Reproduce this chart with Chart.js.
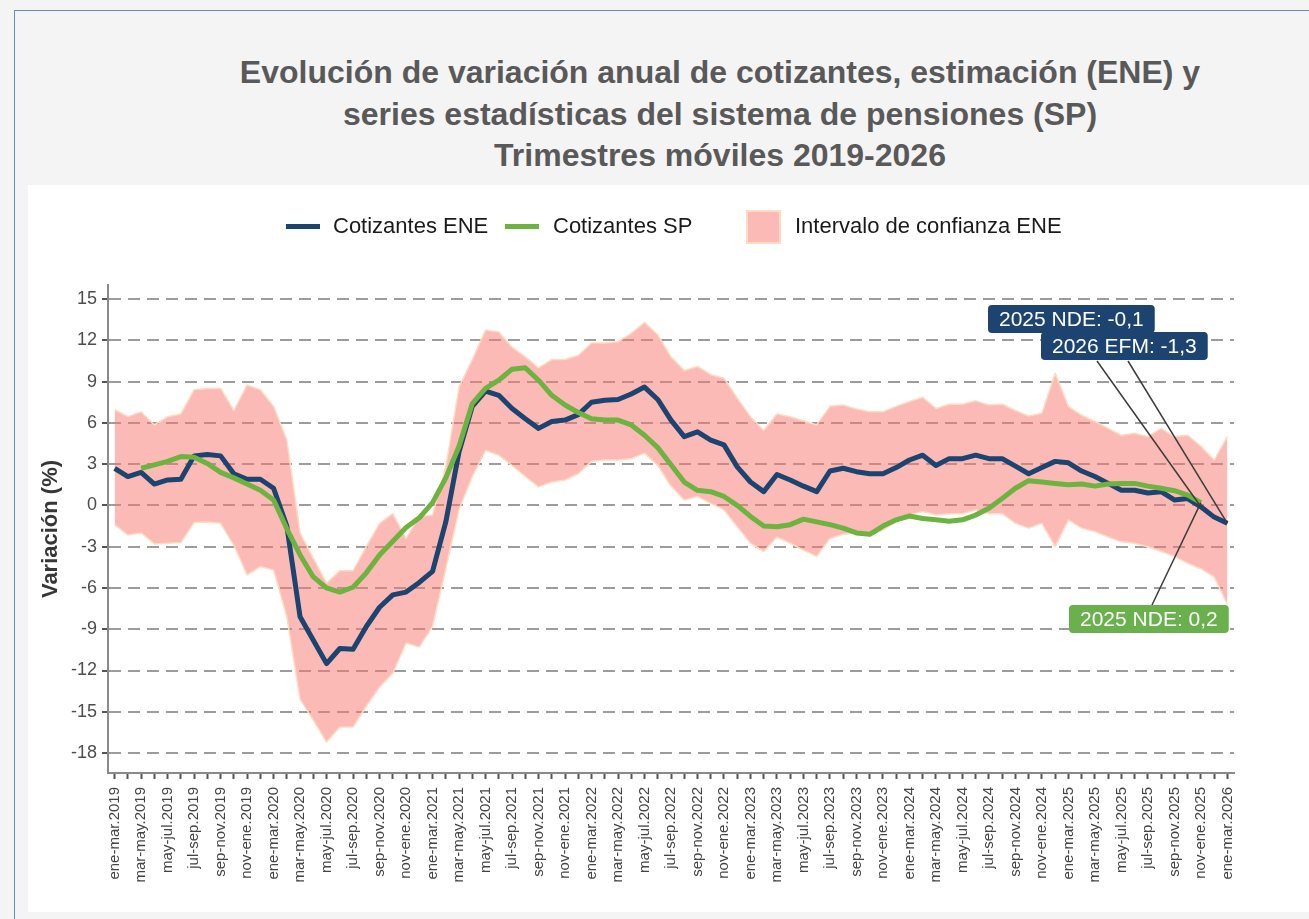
<!DOCTYPE html>
<html lang="es">
<head>
<meta charset="utf-8">
<title>Variación anual de cotizantes ENE y SP</title>
<script src="https://cdn.jsdelivr.net/npm/chart.js@4.4.1/dist/chart.umd.min.js"></script>
<style>
  html, body { margin: 0; padding: 0; }
  body {
    width: 1309px; height: 919px; position: relative; overflow: hidden;
    background: #f4f4f4;
    font-family: "Liberation Sans", Arial, Helvetica, sans-serif;
  }
  #marco {
    position: absolute; left: 14px; top: 10px; width: 1310px; height: 920px;
    border-left: 1.5px solid #6a8cc2; border-top: 1.5px solid #6a8cc2;
  }
  #titulo {
    position: absolute; left: 0; top: 52px; width: 1440px;
    text-align: center; font-weight: bold; font-size: 32px; line-height: 41.5px;
    color: #595959;
  }
  #panel {
    position: absolute; left: 28px; top: 185px; width: 1281px; height: 727px;
    background: #ffffff;
  }
  #grafico { position: absolute; left: 0; top: 0; }
  .ley-linea { position: absolute; height: 5px; top: 224px; }
  .ley-caja {
    position: absolute; left: 746px; top: 210px; width: 31px; height: 30px;
    background: #fbbab6; border: 2px solid #fddcc2;
  }
  .ley-texto {
    position: absolute; top: 213px; font-size: 22px; line-height: 26px; color: #1a1a1a;
    white-space: nowrap;
  }
</style>
</head>
<body>
<div id="marco"></div>
<div id="titulo">Evolución de variación anual de cotizantes, estimación (ENE) y<br>series estadísticas del sistema de pensiones (SP)<br>Trimestres móviles 2019-2026</div>
<div id="panel">
  <canvas id="grafico" width="1281" height="727"></canvas>
</div>
<div class="ley-linea" style="left:286px; width:34px; background:#1b4470;"></div>
<div class="ley-texto" style="left:333px;">Cotizantes ENE</div>
<div class="ley-linea" style="left:505px; width:34px; background:#6db33f;"></div>
<div class="ley-texto" style="left:553px;">Cotizantes SP</div>
<div class="ley-caja"></div>
<div class="ley-texto" style="left:795px;">Intervalo de confianza ENE</div>

<script>
// Trimestres móviles, ene-mar.2019 ... ene-mar.2026
var periodos = [
  'ene-mar.2019','feb-abr.2019','mar-may.2019','abr-jun.2019','may-jul.2019','jun-ago.2019','jul-sep.2019','ago-oct.2019','sep-nov.2019','oct-dic.2019','nov-ene.2019','dic-feb.2019',
  'ene-mar.2020','feb-abr.2020','mar-may.2020','abr-jun.2020','may-jul.2020','jun-ago.2020','jul-sep.2020','ago-oct.2020','sep-nov.2020','oct-dic.2020','nov-ene.2020','dic-feb.2020',
  'ene-mar.2021','feb-abr.2021','mar-may.2021','abr-jun.2021','may-jul.2021','jun-ago.2021','jul-sep.2021','ago-oct.2021','sep-nov.2021','oct-dic.2021','nov-ene.2021','dic-feb.2021',
  'ene-mar.2022','feb-abr.2022','mar-may.2022','abr-jun.2022','may-jul.2022','jun-ago.2022','jul-sep.2022','ago-oct.2022','sep-nov.2022','oct-dic.2022','nov-ene.2022','dic-feb.2022',
  'ene-mar.2023','feb-abr.2023','mar-may.2023','abr-jun.2023','may-jul.2023','jun-ago.2023','jul-sep.2023','ago-oct.2023','sep-nov.2023','oct-dic.2023','nov-ene.2023','dic-feb.2023',
  'ene-mar.2024','feb-abr.2024','mar-may.2024','abr-jun.2024','may-jul.2024','jun-ago.2024','jul-sep.2024','ago-oct.2024','sep-nov.2024','oct-dic.2024','nov-ene.2024','dic-feb.2024',
  'ene-mar.2025','feb-abr.2025','mar-may.2025','abr-jun.2025','may-jul.2025','jun-ago.2025','jul-sep.2025','ago-oct.2025','sep-nov.2025','oct-dic.2025','nov-ene.2025','dic-feb.2025',
  'ene-mar.2026'
];

// Variación anual (%) de cotizantes, estimación ENE
var cotizantesENE = [
  2.7, 2.1, 2.4, 1.55, 1.85, 1.9, 3.6, 3.7, 3.6, 2.3, 1.9, 1.9,
  1.25, -1.5, -8.1, -9.8, -11.5, -10.4, -10.45, -8.8, -7.4, -6.5, -6.3, -5.6,
  -4.8, -1.2, 3.9, 7.2, 8.3, 8.0, 7.05, 6.3, 5.6, 6.1, 6.2, 6.6,
  7.5, 7.65, 7.7, 8.1, 8.6, 7.7, 6.2, 5.0, 5.35, 4.75, 4.4, 2.8,
  1.7, 1.0, 2.25, 1.85, 1.4, 1.0, 2.5, 2.7, 2.45, 2.3, 2.3, 2.75,
  3.3, 3.65, 2.9, 3.4, 3.4, 3.65, 3.4, 3.4, 2.85, 2.3, 2.75, 3.2,
  3.1, 2.5, 2.1, 1.6, 1.1, 1.1, 0.9, 1.0, 0.4, 0.5, -0.1, -0.85,
  -1.3
];

// Variación anual (%) de cotizantes, series del sistema de pensiones
var cotizantesSP = [
  null, null, 2.7, 2.95, 3.2, 3.55, 3.5, 3.05, 2.4, 2.0, 1.55, 1.1,
  0.4, -1.7, -3.6, -5.2, -6.0, -6.3, -5.95, -4.9, -3.6, -2.6, -1.6, -0.9,
  0.2, 2.0, 4.3, 7.4, 8.5, 9.1, 9.9, 10.0, 9.1, 8.0, 7.3, 6.75,
  6.3, 6.2, 6.2, 5.85, 5.1, 4.2, 2.95, 1.7, 1.1, 1.0, 0.65, 0.0,
  -0.8, -1.5, -1.55, -1.4, -1.0, -1.2, -1.4, -1.65, -2.0, -2.1, -1.5, -1.05,
  -0.77, -0.95, -1.05, -1.15, -1.05, -0.7, -0.2, 0.5, 1.25, 1.8, 1.7, 1.6,
  1.5, 1.55, 1.4, 1.55, 1.6, 1.6, 1.4, 1.25, 1.07, 0.75, 0.2, null,
  null
];

// Intervalo de confianza ENE
var icSuperior = [
  6.95, 6.45, 6.8, 5.85, 6.45, 6.65, 8.4, 8.5, 8.5, 6.9, 8.75, 8.4,
  7.2, 4.75, -2.0, -3.85, -5.65, -4.75, -4.75, -3.0, -1.3, -0.6, -2.4, -0.8,
  -0.7, 2.8, 8.6, 10.6, 12.75, 12.6, 11.5, 10.8, 10.0, 10.6, 10.6, 10.9,
  11.8, 11.8, 11.9, 12.5, 13.3, 12.4, 10.8, 9.8, 10.1, 9.5, 9.25, 7.8,
  6.45, 5.45, 6.65, 6.45, 6.15, 5.85, 7.2, 7.3, 7.0, 6.8, 6.8, 7.2,
  7.55, 7.85, 7.05, 7.35, 7.35, 7.6, 7.3, 7.35, 6.9, 6.5, 6.7, 9.6,
  7.2, 6.55, 6.1, 5.6, 5.1, 5.25, 5.0, 5.6, 5.0, 5.1, 4.3, 3.3,
  5.0
];
var icInferior = [
  -1.4, -2.15, -2.0, -2.8, -2.75, -2.7, -1.25, -1.2, -1.3, -2.9, -5.05, -4.45,
  -4.7, -8.1, -14.1, -15.6, -17.2, -16.1, -16.1, -14.6, -13.2, -12.2, -10.0, -10.3,
  -8.8, -4.6, -0.3, 2.1, 4.0, 3.65, 2.9, 2.1, 1.35, 1.7, 1.85, 2.3,
  3.2, 3.3, 3.3, 3.4, 3.8, 2.9, 1.4, 0.4, 0.65, 0.15, -0.33, -1.55,
  -2.75, -3.35, -2.3, -2.75, -3.25, -3.7, -2.4, -2.1, -2.0, -2.2, -1.8, -1.2,
  -0.7, -0.45, -0.7, -0.6, -0.6, -0.33, -0.6, -0.6, -1.3, -1.65, -1.3, -3.0,
  -1.05, -1.65, -1.9, -2.3, -2.65, -2.75, -3.0, -3.35, -3.7, -4.2, -4.6, -5.2,
  -7.2
];

// Etiquetas de los últimos valores
var etiquetasTexto = ['2025 NDE: -0,1', '2026 EFM: -1,3', '2025 NDE: 0,2'];
var etiquetasIndice = [82, 84, 82];
var etiquetasSerie = ['ENE', 'ENE', 'SP'];

var colorENE = '#1b4470';
var colorSP = '#6db33f';
var fuente = '"Liberation Sans", Arial, Helvetica, sans-serif';

// Cajas con líneas guía hacia el punto
var etiquetasPlugin = {
  id: 'etiquetasFinales',
  afterDatasetsDraw: function (chart) {
    var ctx = chart.ctx;
    var xs = chart.scales.x;
    var ys = chart.scales.y;
    // caja: izquierda, arriba (px del lienzo); guía: inicio de la línea
    var cajas = [
      { left: 960, top: 120, gx: 1069, gy: 176 },
      { left: 1013, top: 147, gx: 1100, gy: 176 },
      { left: 1041, top: 420, gx: 1124, gy: 420 }
    ];
    ctx.save();
    ctx.font = '21px ' + fuente;
    // líneas guía
    ctx.strokeStyle = '#3c3c3c';
    ctx.lineWidth = 1.5;
    etiquetasTexto.forEach(function (t, k) {
      var serie = etiquetasSerie[k] === 'SP' ? cotizantesSP : cotizantesENE;
      var idx = etiquetasIndice[k];
      var px = xs.getPixelForValue(idx);
      var py = ys.getPixelForValue(serie[idx]);
      ctx.beginPath();
      ctx.moveTo(cajas[k].gx, cajas[k].gy);
      ctx.lineTo(px, py);
      ctx.stroke();
    });
    // cajas
    etiquetasTexto.forEach(function (t, k) {
      var c = cajas[k];
      var w = ctx.measureText(t).width + 22;
      var h = 28;
      ctx.fillStyle = etiquetasSerie[k] === 'SP' ? '#6ab04c' : '#1d4471';
      ctx.beginPath();
      if (ctx.roundRect) ctx.roundRect(c.left, c.top, w, h, 4);
      else ctx.rect(c.left, c.top, w, h);
      ctx.fill();
      ctx.fillStyle = '#ffffff';
      ctx.textAlign = 'center';
      ctx.textBaseline = 'middle';
      ctx.fillText(t, c.left + w / 2, c.top + h / 2 + 1);
    });
    ctx.restore();
  }
};

new Chart(document.getElementById('grafico'), {
  type: 'line',
  data: {
    labels: periodos,
    datasets: [
      {
        label: 'IC superior', data: icSuperior, fill: '+1',
        backgroundColor: 'rgba(248,118,109,0.5)', borderColor: '#fcdcc2', borderWidth: 1.5,
        pointRadius: 0, order: 3
      },
      {
        label: 'IC inferior', data: icInferior, fill: false,
        borderColor: '#fcdcc2', borderWidth: 1.5, pointRadius: 0, order: 2
      },
      {
        label: 'Cotizantes ENE', data: cotizantesENE, fill: false,
        borderColor: colorENE, borderWidth: 5, pointRadius: 0, order: 1
      },
      {
        label: 'Cotizantes SP', data: cotizantesSP, fill: false,
        borderColor: colorSP, borderWidth: 5, pointRadius: 0, order: 0, spanGaps: false
      }
    ]
  },
  options: {
    responsive: false,
    animation: false,
    devicePixelRatio: 1,
    layout: { padding: { top: 100, right: 75, left: 0, bottom: 0 } },
    elements: { line: { tension: 0, borderJoinStyle: 'round' } },
    plugins: {
      legend: { display: false },
      tooltip: { enabled: false },
      title: { display: false }
    },
    scales: {
      x: {
        offset: true,
        grid: { offset: false, drawOnChartArea: false, drawTicks: true, tickLength: 6, tickColor: '#555', tickWidth: 2 },
        border: { color: '#8a8a8a', width: 2 },
        ticks: {
          autoSkip: false, minRotation: 90, maxRotation: 90, padding: 8,
          color: '#444', font: { family: fuente, size: 15 },
          callback: function (v, i) { return i % 2 === 0 ? periodos[i] : ''; }
        },
        afterFit: function (s) { s.height = 139; }
      },
      y: {
        min: -19.45, max: 16.02,
        ticks: { stepSize: 3, includeBounds: false, color: '#4d4d4d', font: { family: fuente, size: 18 }, padding: 5 },
        grid: { color: '#9c9c9c', lineWidth: 2, tickColor: '#555', tickLength: 6, tickWidth: 2 },
        border: { color: '#8a8a8a', width: 2, dash: [12, 7] },
        title: {
          display: true, text: 'Variación (%)', color: '#363636',
          font: { family: fuente, size: 22, weight: 'bold' }, padding: { top: 10, bottom: 0 }
        },
        afterFit: function (s) { s.width = 80; }
      }
    }
  },
  plugins: [etiquetasPlugin]
});
</script>
</body>
</html>
